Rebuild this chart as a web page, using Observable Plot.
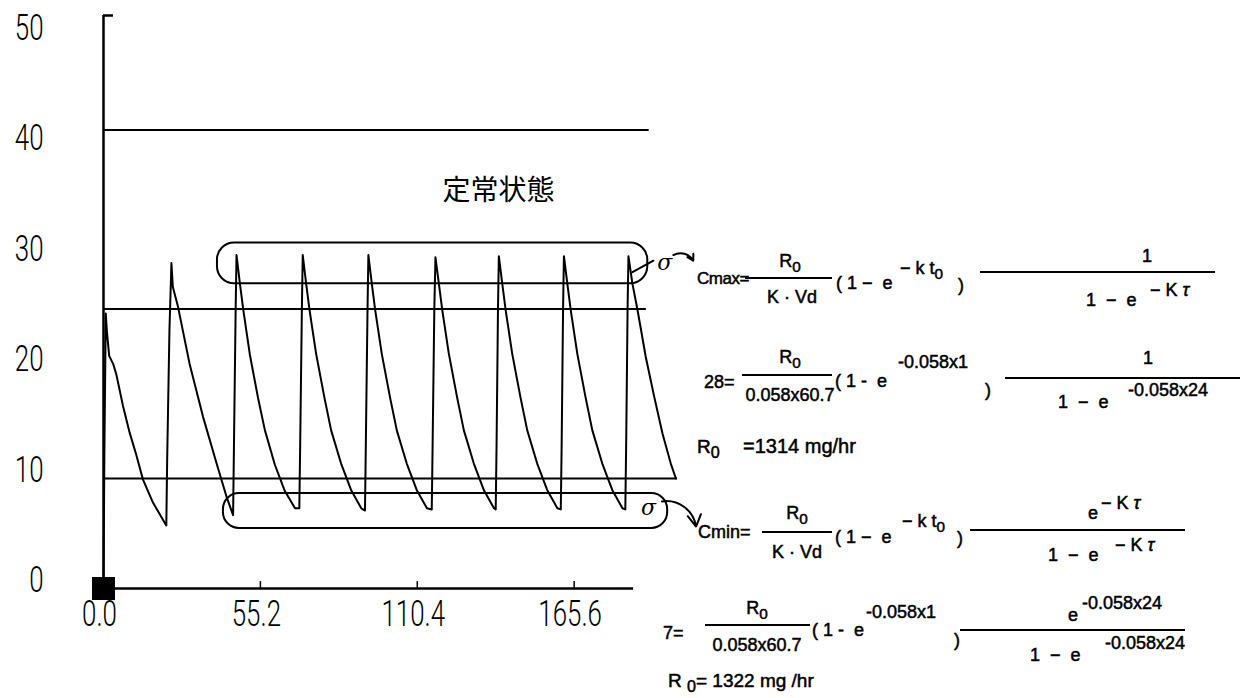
<!DOCTYPE html>
<html><head><meta charset="utf-8">
<script src="https://cdn.jsdelivr.net/npm/d3@7"></script>
<script src="https://cdn.jsdelivr.net/npm/@observablehq/plot@0.6"></script>
<style>
body{margin:0;background:#fff;}
#wrap{position:relative;width:1251px;height:698px;overflow:hidden;background:#fff;}
#wrap svg{position:absolute;left:0;top:0;}
.eq{position:absolute;font-family:"Liberation Sans",Arial,Helvetica,sans-serif;color:#000;white-space:nowrap;line-height:1;-webkit-text-stroke:0.5px #000;}
.eq .s{font-size:0.85em;position:relative;top:0.35em;}
.bar{position:absolute;height:0;border-top:2px solid #000;}
</style></head><body><div id="wrap"></div>
<script>
// ---- data ----
const hours = [
  0, 0.3, 0.8, 1.2, 2.0, 3.4, 4.5, 6.8, 9.2, 11.5, 13.9, 17.4, 22.1,
  22.4, 23.2, 23.9,
  24.4, 26.2, 30.3, 35.0, 39.8, 43.3, 45.6,
  45.9, 46.5, 46.8,
  48.0, 49.2, 51.5, 54.4, 56.8, 60.3, 63.8, 67.4, 68.9,
  69.2, 69.8, 70.1,
  71.3, 72.5, 74.8, 77.7, 80.1, 83.6, 87.1, 90.7, 92.0,
  92.3, 92.9, 93.2,
  94.4, 95.6, 97.9, 100.8, 103.2, 106.7, 110.2, 113.8, 115.5,
  115.8, 116.4, 116.8,
  118.0, 119.2, 121.5, 124.4, 126.8, 130.3, 133.8, 137.4, 138.0,
  138.3, 138.8, 139.1,
  140.3, 141.5, 143.8, 146.7, 149.1, 152.6, 156.1, 159.7, 160.9,
  161.2, 161.7, 162.0,
  163.2, 164.4, 166.7, 169.6, 172.0, 175.5, 179.0, 182.6, 183.6,
  183.9, 184.4, 184.7,
  186.1, 187.9, 190.8, 193.8, 196.7, 199.6, 201.4
];
const conc = [
  0, 11.7, 24.0, 22.4, 20.3, 19.6, 18.7, 16.0, 13.6, 11.7, 9.5, 7.5, 5.5,
  11.2, 22.5, 28.4,
  26.3, 24.6, 19.6, 15.0, 10.9, 8.0, 6.4,
  12.4, 24.4, 29.1,
  26.6, 24.3, 20.4, 16.6, 13.8, 10.8, 8.5, 7.0, 7.0,
  12.5, 24.4, 29.1,
  26.6, 24.3, 20.5, 16.7, 13.8, 10.9, 8.6, 7.0, 6.8,
  12.5, 24.4, 29.1,
  26.6, 24.3, 20.5, 16.7, 13.8, 10.9, 8.6, 7.0, 6.9,
  12.5, 24.4, 28.9,
  26.6, 24.3, 20.5, 16.7, 13.8, 10.9, 8.6, 7.0, 6.9,
  12.5, 24.4, 29.0,
  26.6, 24.3, 20.5, 16.7, 13.8, 10.9, 8.6, 7.0, 6.9,
  12.5, 24.4, 29.0,
  26.6, 24.3, 20.5, 16.7, 13.8, 10.9, 8.6, 7.0, 6.9,
  12.5, 24.4, 29.0,
  26.6, 24.3, 20.2, 16.7, 13.5, 10.9, 9.6
];
const refLevels = [40, 24.4, 9.6];
const refEnds = [192, 191, 202];
const xTicks = [0, 55.2, 110.4, 165.6];
const yTicks = [0, 10, 20, 30, 40, 50];
const cmaxBox = [{x1: 40.1, x2: 191.5, y1: 26.6, y2: 30.15}];
const cminBox = [{x1: 42.2, x2: 198.5, y1: 5.24, y2: 8.29}];
const titleText = "定常状態";

// ---- layout constants ----
const digitFont = "Roboto,'DejaVu Sans',sans-serif";
const labelScale = 0.964, labelOffset = 0.7;   // tick labels sit slightly off the grid in the reference
const squeeze = 0.7;                            // condensed digits of the reference

const pts = hours.map((t, i) => ({t, c: conc[i]}));
const refs = refLevels.map((v, i) => ({v, end: refEnds[i]}));

const chart = Plot.plot({
  width: 1251, height: 698,
  marginLeft: 103, marginRight: 608, marginTop: 15, marginBottom: 110,
  x: {domain: [0, 190], axis: null},
  y: {domain: [0, 50], axis: null},
  style: {background: "white", overflow: "visible"},
  marks: [
    Plot.ruleX([0], {y1: 0, y2: 50, strokeWidth: 2.5}),
    Plot.ruleY([50], {x1: 0, x2: 3.5, strokeWidth: 2.5}),
    Plot.ruleY([0], {x1: 0, x2: 186.5, strokeWidth: 2.5}),
    Plot.ruleX(xTicks.slice(1), {y1: 0, y2: 0.6, strokeWidth: 1.5}),
    Plot.ruleY(refs, {y: "v", x1: 0, x2: "end", strokeWidth: 2}),
    Plot.rect(cmaxBox, {x1: "x1", x2: "x2", y1: "y1", y2: "y2", rx: 17, fill: "none", stroke: "black", strokeWidth: 2}),
    Plot.rect(cminBox, {x1: "x1", x2: "x2", y1: "y1", y2: "y2", rx: 16, fill: "none", stroke: "black", strokeWidth: 2}),
    Plot.line(pts, {x: "t", y: "c", strokeWidth: 2, stroke: "black", curve: "linear"}),
    Plot.dot([{x: 0, y: 0}], {x: "x", y: "y", symbol: "square", r: 13, fill: "black", stroke: null}),
    Plot.text(xTicks, {x: d => d, y: 0, text: d => d3.format(".1f")(d), lineAnchor: "top", dy: 11, dx: -4,
      fontSize: 37, fontWeight: 300, fontFamily: digitFont, fill: "black", className: "ticklab"}),
    Plot.text(yTicks, {x: 0, y: d => labelOffset + d * labelScale, text: d => String(d), textAnchor: "end", dx: -60,
      fontSize: 37, fontWeight: 300, fontFamily: digitFont, fill: "black", className: "ticklab"}),
    Plot.text([titleText], {x: () => 139, y: () => 34.7, text: d => d, fontSize: 28,
      fontFamily: "'Noto Sans CJK JP',sans-serif", fill: "black"}),
    // hand-drawn pointers
    Plot.line([{x: 186.1, y: 27.6}, {x: 193.5, y: 28.6}], {x: "x", y: "y", strokeWidth: 2}),
    Plot.text(["σ"], {x: () => 197.5, y: () => 28.4, text: d => d, fontSize: 22, fontStyle: "italic", fontFamily: "'DejaVu Serif',serif"}),
    Plot.arrow([{x1: 200.5, y1: 29.1, x2: 207.5, y2: 28.6}], {x1: "x1", y1: "y1", x2: "x2", y2: "y2", bend: 45, strokeWidth: 2, headLength: 9}),
    Plot.text(["σ"], {x: () => 191.8, y: () => 7.0, text: d => d, fontSize: 22, fontStyle: "italic", fontFamily: "'DejaVu Serif',serif"}),
    Plot.arrow([{x1: 196.5, y1: 7.6, x2: 208.5, y2: 5.4}], {x1: "x1", y1: "y1", x2: "x2", y2: "y2", bend: 45, strokeWidth: 2, headLength: 10})
  ]
});
// condense the tick-label digits like the reference's narrow font
chart.querySelectorAll(".ticklab text").forEach(t => {
  const tr = t.getAttribute("transform");
  if (tr) t.setAttribute("transform", tr + ` scale(${squeeze},1)`);
  else {
    const x = +t.getAttribute("x") || 0, y = +t.getAttribute("y") || 0;
    t.setAttribute("x", 0); t.setAttribute("y", 0);
    t.setAttribute("transform", `translate(${x},${y}) scale(${squeeze},1)`);
  }
});
const wrap = document.getElementById("wrap");
wrap.appendChild(chart);

// ---- equation annotations ----
function txt(s, x, y, size = 18, center = false) {
  const el = document.createElement("div");
  el.className = "eq";
  el.innerHTML = s;
  el.style.fontSize = size + "px";
  el.style.left = x + "px";
  el.style.top = (y - size * 0.5) + "px";
  if (center) el.style.transform = "translateX(-50%)";
  wrap.appendChild(el);
}
function bar(x1, x2, y) {
  const el = document.createElement("div");
  el.className = "bar";
  el.style.left = x1 + "px";
  el.style.width = (x2 - x1) + "px";
  el.style.top = (y - 1) + "px";
  wrap.appendChild(el);
}
const R0 = 'R<span class="s">0</span>';
// Cmax
txt('<span style="letter-spacing:-0.5px">Cmax=</span>', 697, 278, 17);
bar(745, 832, 278);
txt(R0, 790, 261, 18, true);
txt("K · Vd", 792, 297, 18, true);
txt("( 1 − &nbsp;e", 836, 283);
txt('− k t<span class="s">0</span>', 900, 268);
txt(")", 958, 285);
bar(980, 1215, 272);
txt("1", 1147, 256, 18, true);
txt("1 &nbsp;− &nbsp;e", 1086, 300);
txt("− K <i>τ</i>", 1150, 290);
// 28 =
txt("28=", 704, 382);
bar(742, 832, 375);
txt(R0, 790, 357, 18, true);
txt("0.058x60.7", 790, 395, 18, true);
txt("( 1 - &nbsp;e", 835, 381);
txt("-0.058x1", 898, 362);
txt(")", 985, 390);
bar(1005, 1240, 378);
txt("1", 1148, 358, 18, true);
txt("1 &nbsp;− &nbsp;e", 1058, 402);
txt("-0.058x24", 1128, 390);
txt(R0, 697, 446, 19);
txt("=1314 mg/hr", 743, 446, 20);
// Cmin
txt("Cmin=", 698, 532);
bar(762, 832, 532);
txt(R0, 797, 513, 18, true);
txt("K · Vd", 797, 552, 18, true);
txt("( 1 − &nbsp;e", 835, 537);
txt('− k t<span class="s">0</span>', 902, 521);
txt(")", 957, 538);
bar(970, 1185, 530);
txt("e", 1088, 513);
txt("− K <i>τ</i>", 1101, 503);
txt("1 &nbsp;− &nbsp;e", 1048, 555);
txt("− K <i>τ</i>", 1115, 545);
// 7 =
txt("7=", 663, 633);
bar(705, 810, 625);
txt(R0, 757, 608, 18, true);
txt("0.058x60.7", 757, 645, 18, true);
txt("( 1 - &nbsp;e", 812, 630);
txt("-0.058x1", 866, 612);
txt(")", 954, 640);
bar(960, 1185, 630);
txt("e", 1068, 615);
txt("-0.058x24", 1082, 603);
txt("1 &nbsp;− &nbsp;e", 1030, 655);
txt("-0.058x24", 1105, 643);
txt('R <span class="s">0</span>= 1322 mg /hr', 668, 680, 19);
</script></body></html>
